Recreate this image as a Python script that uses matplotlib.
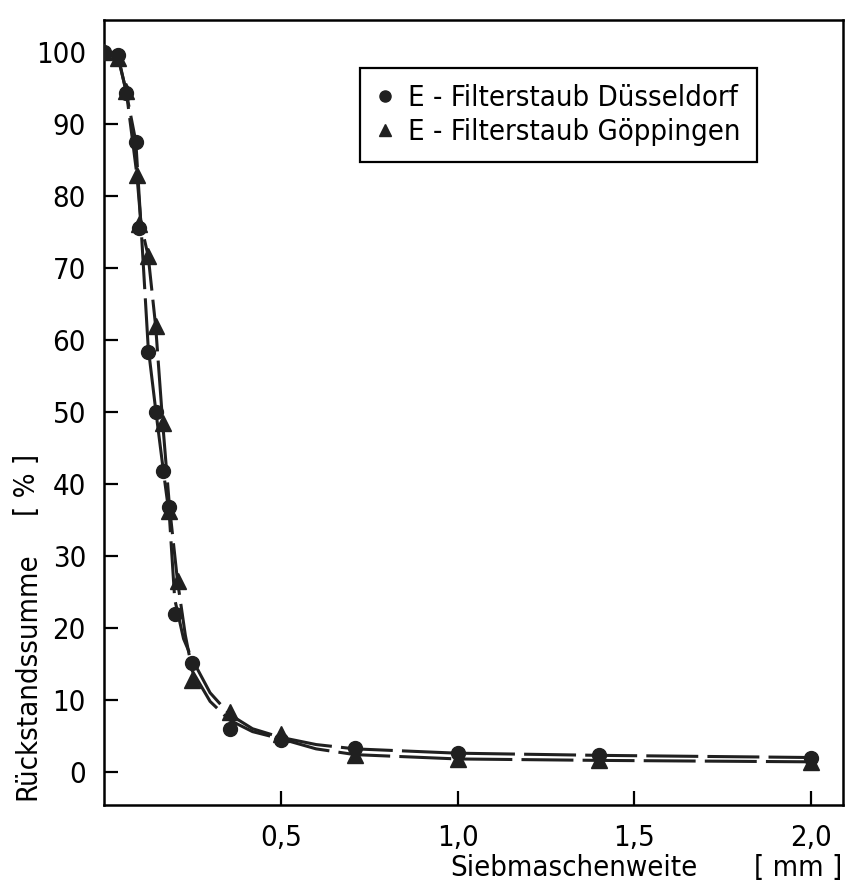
import matplotlib
matplotlib.use("Agg")
import matplotlib.pyplot as plt
from matplotlib.lines import Line2D

plt.rcParams["font.family"] = ["DejaVu Sans"]
plt.rcParams["font.stretch"] = "condensed"

# Messpunkte (Siebmaschenweite in mm, Rueckstandssumme in %)
duess_x = [0.0, 0.04, 0.063, 0.09, 0.10, 0.125, 0.147, 0.168, 0.185, 0.20, 0.25, 0.355, 0.50, 0.71, 1.0, 1.4, 2.0]
duess_y = [100.0, 99.6, 94.3, 87.6, 75.6, 58.4, 50.0, 41.8, 36.8, 21.9, 15.2, 6.0, 4.5, 3.3, 2.6, 2.3, 2.0]

goepp_x = [0.0, 0.04, 0.063, 0.093, 0.10, 0.125, 0.146, 0.166, 0.185, 0.208, 0.25, 0.355, 0.50, 0.71, 1.0, 1.4, 2.0]
goepp_y = [100.0, 99.2, 94.6, 83.0, 76.2, 71.7, 62.0, 48.5, 36.2, 26.5, 12.8, 8.3, 5.2, 2.3, 1.8, 1.6, 1.4]

# Ausgleichskurven
duess_curve_x = [0.04, 0.063, 0.09, 0.105, 0.125, 0.147, 0.168, 0.185, 0.20, 0.225, 0.25, 0.30, 0.355, 0.42, 0.50, 0.60, 0.71, 1.0, 1.4, 2.0]
duess_curve_y = [99.5, 94.4, 87.6, 75.6, 59.0, 50.0, 41.8, 35.5, 24.0, 18.5, 15.6, 11.0, 8.0, 6.0, 4.8, 3.8, 3.2, 2.6, 2.3, 2.0]

goepp_curve_x = [0.04, 0.063, 0.093, 0.105, 0.125, 0.146, 0.166, 0.185, 0.208, 0.23, 0.25, 0.30, 0.355, 0.42, 0.50, 0.60, 0.71, 1.0, 1.4, 2.0]
goepp_curve_y = [99.2, 94.6, 83.0, 76.0, 71.7, 62.0, 48.5, 37.0, 26.5, 19.0, 14.0, 9.8, 7.2, 5.6, 4.6, 3.2, 2.4, 1.8, 1.6, 1.4]

x_ticks = [0.5, 1.0, 1.5, 2.0]
x_tick_labels = ["0,5", "1,0", "1,5", "2,0"]
y_ticks = [0, 10, 20, 30, 40, 50, 60, 70, 80, 90, 100]

label_duess = "E - Filterstaub Düsseldorf"
label_goepp = "E - Filterstaub Göppingen"

ink = "#202020"
dash = (0, (17, 3))
fs = 21

fig = plt.figure(figsize=(8.5, 8.88), dpi=100)
# Achsenrahmen: links 104 px, rechts 843 px, oben 20 px, unten 805 px
ax = fig.add_axes([104 / 850, 1 - 805 / 888, 739 / 850, 785 / 888])

ax.plot(duess_curve_x, duess_curve_y, color=ink, lw=2.2, linestyle=dash)
ax.plot(goepp_curve_x, goepp_curve_y, color=ink, lw=2.2, linestyle=dash)

ax.plot(duess_x, duess_y, "o", color=ink, markersize=10, zorder=3)
ax.plot(goepp_x, goepp_y, "^", color=ink, markersize=11, zorder=3)

ax.set_xlim(0, 2.09)
ax.set_ylim(-4.6, 104.5)
ax.set_xticks(x_ticks)
ax.set_xticklabels(x_tick_labels)
ax.set_yticks(y_ticks)

ax.tick_params(direction="in", length=10, width=1.6, labelsize=fs, colors="black")
ax.tick_params(axis="y", pad=13)
ax.tick_params(axis="x", pad=14)
for s in ax.spines.values():
    s.set_linewidth(1.8)

handles = [
    Line2D([], [], marker="o", linestyle="none", color=ink, markersize=8),
    Line2D([], [], marker="^", linestyle="none", color=ink, markersize=9),
]
leg = ax.legend(handles, [label_duess, label_goepp], loc="upper right",
                bbox_to_anchor=(1 - 86 / 739, 1 - 48 / 785), fontsize=fs, frameon=True,
                fancybox=False, edgecolor="black", framealpha=1,
                handlelength=0.6, handletextpad=0.5, labelspacing=0.2,
                borderpad=0.55, borderaxespad=0)
leg.get_frame().set_linewidth(1.6)

fig.text(27 / 850, 1 - 800 / 888, "Rückstandssumme", rotation=90, fontsize=fs, ha="center", va="bottom")
fig.text(27 / 850, 1 - 485 / 888, "[ % ]", rotation=90, fontsize=fs, ha="center", va="center")
fig.text(698 / 850, 1 - 876 / 888, "Siebmaschenweite", fontsize=fs, ha="right", va="baseline")
fig.text(842 / 850, 1 - 876 / 888, "[ mm ]", fontsize=fs, ha="right", va="baseline")

fig.savefig("out.png", dpi=100)
